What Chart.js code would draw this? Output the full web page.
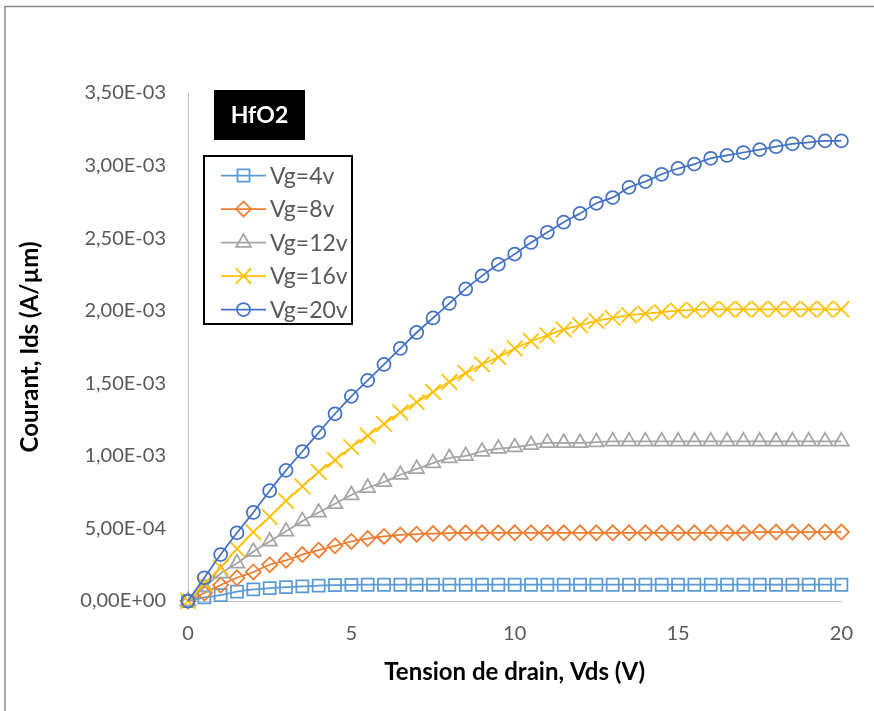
<!DOCTYPE html>
<html>
<head>
<meta charset="utf-8">
<title>HfO2 - Ids(Vds)</title>
<script src="https://cdn.jsdelivr.net/npm/chart.js@4.4.1/dist/chart.umd.min.js"></script>
<style>
    html, body { margin: 0; padding: 0; background: #fff; }
    #wrap { position: relative; width: 874px; height: 711px; }
</style>
</head>
<body>
<div id="wrap"><canvas id="ids-linechart" width="874" height="711"></canvas></div>
<script>
// Drain voltage (V)
const vds = [0, 0.5, 1, 1.5, 2, 2.5, 3, 3.5, 4, 4.5, 5, 5.5, 6, 6.5, 7, 7.5, 8, 8.5, 9, 9.5,
    10, 10.5, 11, 11.5, 12, 12.5, 13, 13.5, 14, 14.5, 15, 15.5, 16, 16.5, 17, 17.5, 18, 18.5, 19, 19.5, 20];

// Drain current (A/um), one array per gate voltage
const idsVg4 = [0, 2.5e-5, 4.0e-5, 6.4e-5, 8.0e-5, 8.8e-5, 9.5e-5, 1.0e-4, 1.06e-4, 1.09e-4, 1.11e-4,
    1.12e-4, 1.12e-4, 1.12e-4, 1.12e-4, 1.12e-4, 1.12e-4, 1.12e-4, 1.12e-4, 1.12e-4, 1.12e-4,
    1.12e-4, 1.12e-4, 1.12e-4, 1.12e-4, 1.12e-4, 1.12e-4, 1.12e-4, 1.12e-4, 1.12e-4, 1.12e-4,
    1.12e-4, 1.12e-4, 1.12e-4, 1.12e-4, 1.12e-4, 1.12e-4, 1.12e-4, 1.12e-4, 1.12e-4, 1.12e-4];
const idsVg8 = [0, 5.5e-5, 1.1e-4, 1.6e-4, 2.0e-4, 2.5e-4, 2.8e-4, 3.2e-4, 3.5e-4, 3.8e-4, 4.1e-4,
    4.3e-4, 4.45e-4, 4.55e-4, 4.6e-4, 4.65e-4, 4.68e-4, 4.7e-4, 4.7e-4, 4.7e-4, 4.7e-4,
    4.7e-4, 4.7e-4, 4.7e-4, 4.7e-4, 4.7e-4, 4.7e-4, 4.7e-4, 4.7e-4, 4.7e-4, 4.7e-4,
    4.7e-4, 4.7e-4, 4.7e-4, 4.7e-4, 4.75e-4, 4.75e-4, 4.75e-4, 4.75e-4, 4.75e-4, 4.75e-4];
const idsVg12 = [0, 9.5e-5, 1.9e-4, 2.6e-4, 3.4e-4, 4.1e-4, 4.8e-4, 5.5e-4, 6.1e-4, 6.7e-4, 7.3e-4,
    7.8e-4, 8.2e-4, 8.7e-4, 9.1e-4, 9.5e-4, 9.85e-4, 1.0e-3, 1.03e-3, 1.05e-3, 1.06e-3,
    1.075e-3, 1.09e-3, 1.09e-3, 1.09e-3, 1.095e-3, 1.1e-3, 1.1e-3, 1.1e-3, 1.1e-3, 1.1e-3,
    1.1e-3, 1.1e-3, 1.1e-3, 1.1e-3, 1.1e-3, 1.1e-3, 1.1e-3, 1.1e-3, 1.1e-3, 1.1e-3];
const idsVg16 = [0, 1.2e-4, 2.3e-4, 3.6e-4, 4.75e-4, 5.8e-4, 6.9e-4, 7.9e-4, 8.9e-4, 9.7e-4, 1.06e-3,
    1.14e-3, 1.22e-3, 1.30e-3, 1.37e-3, 1.44e-3, 1.51e-3, 1.57e-3, 1.63e-3, 1.68e-3, 1.74e-3,
    1.79e-3, 1.83e-3, 1.87e-3, 1.90e-3, 1.93e-3, 1.95e-3, 1.97e-3, 1.98e-3, 1.99e-3, 2.0e-3,
    2.005e-3, 2.01e-3, 2.01e-3, 2.01e-3, 2.01e-3, 2.01e-3, 2.01e-3, 2.01e-3, 2.01e-3, 2.01e-3];
const idsVg20 = [0, 1.6e-4, 3.2e-4, 4.7e-4, 6.1e-4, 7.6e-4, 9.0e-4, 1.03e-3, 1.16e-3, 1.29e-3, 1.41e-3,
    1.52e-3, 1.63e-3, 1.74e-3, 1.85e-3, 1.95e-3, 2.05e-3, 2.15e-3, 2.24e-3, 2.32e-3, 2.39e-3,
    2.47e-3, 2.54e-3, 2.61e-3, 2.67e-3, 2.74e-3, 2.78e-3, 2.85e-3, 2.89e-3, 2.94e-3, 2.98e-3,
    3.01e-3, 3.05e-3, 3.07e-3, 3.09e-3, 3.11e-3, 3.13e-3, 3.15e-3, 3.16e-3, 3.17e-3, 3.17e-3];

const seriesNames = ['Vg=4v', 'Vg=8v', 'Vg=12v', 'Vg=16v', 'Vg=20v'];
const seriesValues = [idsVg4, idsVg8, idsVg12, idsVg16, idsVg20];
const seriesColors = ['#5B9BD5', '#ED7D31', '#A5A5A5', '#FFC000', '#4472C4'];
const seriesMarkers = ['rect', 'rectRot', 'triangle', 'crossRot', 'circle'];
const markerSizes = [8.5, 7.5, 8.5, 11, 6.5];

const yTickMax = 0.0035;
const yTickStep = 0.0005;
const xTickMax = 20;
const xTickStep = 5;

// "3,50E-03" style labels, like the French Excel axis
function sciLabel(v) {
    const parts = Number(v).toExponential(2).split('e');
    const exp = parseInt(parts[1], 10);
    return parts[0].replace('.', ',') + 'E' + (exp < 0 ? '-' : '+') + String(Math.abs(exp)).padStart(2, '0');
}

// frame, HfO2 tag and the boxed legend
const decorPlugin = {
    id: 'decor',
    beforeDraw(chart) {
        const c = chart.ctx;
        c.save();
        c.strokeStyle = '#8c8c8c';
        c.lineWidth = 1.5;
        c.beginPath();
        c.moveTo(5, 711);
        c.lineTo(5, 6.5);
        c.lineTo(874, 6.5);
        c.stroke();
        c.restore();
    },
    afterDraw(chart) {
        const c = chart.ctx;
        c.save();
        // tag
        c.fillStyle = '#000';
        c.fillRect(214, 90, 91, 50);
        c.fillStyle = '#fff';
        c.font = 'bold 23px Lato';
        c.textAlign = 'center';
        c.textBaseline = 'middle';
        c.fillText('HfO2', 259.5, 116);

        // legend
        c.strokeStyle = '#000';
        c.lineWidth = 2;
        c.strokeRect(204, 156, 148, 168);
        chart.data.datasets.forEach(function(ds, i) {
            const y = 175.5 + i * 33.5;
            c.strokeStyle = ds.borderColor;
            c.lineWidth = ds.borderWidth;
            c.beginPath();
            c.moveTo(221, y);
            c.lineTo(266, y);
            c.stroke();
            c.fillStyle = 'rgba(0,0,0,0)';
            c.lineWidth = ds.pointBorderWidth;
            Chart.helpers.drawPoint(c, {
                pointStyle: ds.pointStyle,
                radius: ds.pointRadius,
                borderWidth: ds.pointBorderWidth,
                rotation: 0
            }, 243.5, y);
            c.fillStyle = '#595959';
            c.font = '23px Lato';
            c.textAlign = 'left';
            c.textBaseline = 'middle';
            c.fillText(ds.label, 270, y + 1);
        });
        c.restore();
    }
};

document.addEventListener('DOMContentLoaded', function() {
    Chart.defaults.font.family = 'Lato';
    Chart.defaults.color = '#595959';

    const datasets = seriesNames.map(function(name, i) {
        return {
            label: name,
            data: vds.map(function(x, k) { return { x: x, y: seriesValues[i][k] }; }),
            borderColor: seriesColors[i],
            backgroundColor: 'rgba(0,0,0,0)',
            borderWidth: 1.75,
            pointStyle: seriesMarkers[i],
            pointRadius: markerSizes[i],
            pointBorderWidth: 1.75,
            pointBorderColor: seriesColors[i],
            pointBackgroundColor: 'rgba(0,0,0,0)',
            cubicInterpolationMode: 'monotone',
            fill: false,
            clip: false,
            order: seriesNames.length - i
        };
    });

    const idsCtx = document.getElementById('ids-linechart').getContext('2d');
    new Chart(idsCtx, {
        type: 'line',
        data: { datasets: datasets },
        options: {
            responsive: false,
            animation: false,
            events: [],
            layout: { padding: { left: 0, top: 93, right: 28, bottom: 0 } },
            plugins: {
                legend: { display: false },
                tooltip: { enabled: false }
            },
            scales: {
                x: {
                    type: 'linear',
                    min: 0,
                    max: xTickMax,
                    ticks: { stepSize: xTickStep, padding: 21, font: { size: 20 }, color: '#595959', maxRotation: 0 },
                    grid: { display: false, drawTicks: false },
                    border: { display: true, color: '#c4c4c4', width: 1 },
                    title: {
                        display: true,
                        text: 'Tension de drain, Vds (V)',
                        color: '#000',
                        font: { size: 24, weight: 'bold' },
                        padding: { top: 0, bottom: 24 }
                    },
                    afterFit: function(scale) { scale.height = 110; }
                },
                y: {
                    type: 'linear',
                    min: 0,
                    max: yTickMax,
                    ticks: { stepSize: yTickStep, padding: 22, font: { size: 20 }, color: '#595959', callback: sciLabel },
                    grid: { display: false, drawTicks: false },
                    border: { display: true, color: '#c4c4c4', width: 1 },
                    title: {
                        display: true,
                        text: 'Courant, Ids (A/µm)',
                        color: '#000',
                        font: { size: 24, weight: 'bold' },
                        padding: { top: 16, bottom: 0 }
                    },
                    afterFit: function(scale) { scale.width = 188; }
                }
            }
        },
        plugins: [decorPlugin]
    });
});
</script>
</body>
</html>
